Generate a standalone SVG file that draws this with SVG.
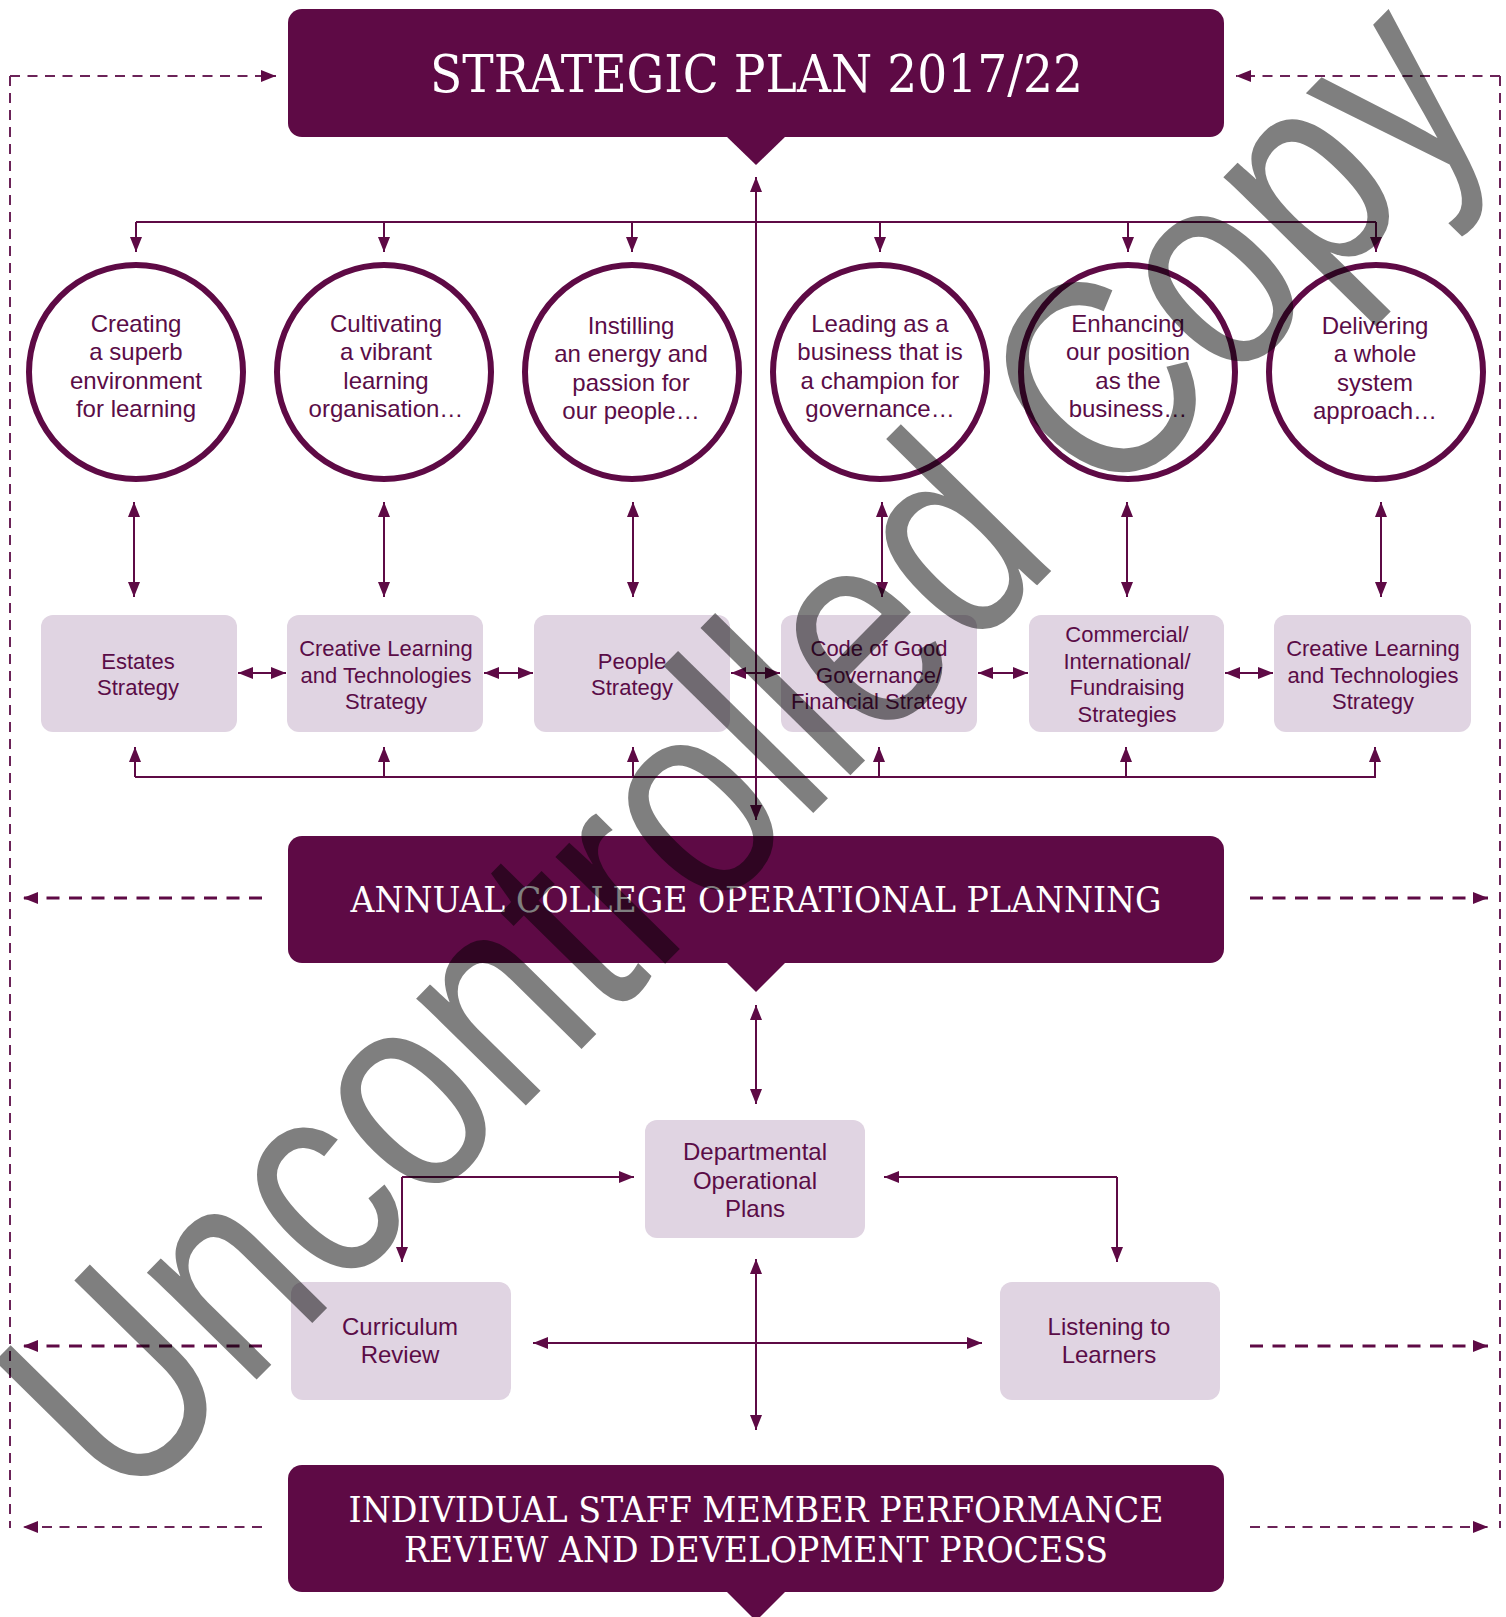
<svg xmlns="http://www.w3.org/2000/svg" width="1506" height="1617" viewBox="0 0 1506 1617">
<style>
.hd{fill:#5e0a45}
.ptr{fill:#5e0a45}
.ht{font-family:"DejaVu Serif","Liberation Serif",serif;fill:#fff;text-anchor:middle}
.circ{fill:#fff;stroke:#5e0a45;stroke-width:6}
.bx{fill:#e0d4e2}
.t24{font-family:"Liberation Sans",Arial,sans-serif;font-size:24px;fill:#5a0c47;text-anchor:middle}
.t22{font-family:"Liberation Sans",Arial,sans-serif;font-size:22px;fill:#5a0c47;text-anchor:middle}
.c{fill:none;stroke:#5e0a45;stroke-width:2}
.ca{fill:none;stroke:#5e0a45;stroke-width:2;marker-end:url(#ah)}
.cd{fill:none;stroke:#5e0a45;stroke-width:2;marker-start:url(#ah);marker-end:url(#ah)}
.dthin{fill:none;stroke:#6b2358;stroke-width:2;stroke-dasharray:10 7}
.dthinA{fill:none;stroke:#6b2358;stroke-width:2.2;stroke-dasharray:10 7.5;marker-end:url(#ah)}
.dthick{fill:none;stroke:#5e0a45;stroke-width:3;stroke-dasharray:13 9.5;marker-end:url(#ah)}
.wm{font-family:"Liberation Sans",Arial,sans-serif;fill:#000;fill-opacity:0.5}
</style>
<defs>
<marker id="ah" viewBox="0 0 15 12" refX="15" refY="6" markerWidth="15" markerHeight="12" markerUnits="userSpaceOnUse" orient="auto-start-reverse">
<path d="M0,0 L15,6 L0,12 z" fill="#5e0a45"/>
</marker>
</defs>
<rect width="1506" height="1617" fill="#fff"/>

<g id="connectors">
<path class="dthin" d="M10,76 V1528"/>
<path class="dthin" d="M1500,76 V1528"/>
<path class="dthinA" d="M10,76 H276"/>
<path class="dthinA" d="M1500,76 H1236"/>
<path class="dthick" d="M262,898 H23"/>
<path class="dthick" d="M1250,898 H1488"/>
<path class="dthick" d="M262,1346 H23"/>
<path class="dthick" d="M1250,1346 H1488"/>
<path class="dthinA" d="M262,1527 H23"/>
<path class="dthinA" d="M1250,1527 H1488"/>
<path class="c" d="M136,222 H1376"/>
<path class="ca" d="M136,222 V252"/>
<path class="ca" d="M384,222 V252"/>
<path class="ca" d="M632,222 V252"/>
<path class="ca" d="M880,222 V252"/>
<path class="ca" d="M1128,222 V252"/>
<path class="ca" d="M1376,222 V252"/>
<path class="cd" d="M756,177 V820"/>
<path class="cd" d="M134,502 V597"/>
<path class="cd" d="M384,502 V597"/>
<path class="cd" d="M633,502 V597"/>
<path class="cd" d="M882,502 V597"/>
<path class="cd" d="M1127,502 V597"/>
<path class="cd" d="M1381,502 V597"/>
<path class="cd" d="M238,673 H286"/>
<path class="cd" d="M484,673 H533"/>
<path class="cd" d="M731,673 H780"/>
<path class="cd" d="M978,673 H1028"/>
<path class="cd" d="M1225,673 H1273"/>
<path class="c" d="M135,777 H1376"/>
<path class="ca" d="M135,777 V747"/>
<path class="ca" d="M384,777 V747"/>
<path class="ca" d="M633,777 V747"/>
<path class="ca" d="M879,777 V747"/>
<path class="ca" d="M1126,777 V747"/>
<path class="ca" d="M1375,777 V747"/>
<path class="cd" d="M756,1005 V1104"/>
<path class="ca" d="M402,1177 H634"/>
<path class="ca" d="M402,1177 V1262"/>
<path class="ca" d="M1117,1177 H884"/>
<path class="ca" d="M1117,1177 V1262"/>
<path class="cd" d="M533,1343 H982"/>
<path class="cd" d="M756,1259 V1430"/>
</g>

<g id="strategic-plan">
<rect class="hd" x="288" y="9" width="936" height="128" rx="14"/>
<polygon class="ptr" points="726,136 786,136 756,165"/>
<text class="ht" x="756.5" y="92" font-size="52" textLength="653" lengthAdjust="spacingAndGlyphs">STRATEGIC PLAN 2017/22</text>
</g>

<g id="aim-1">
<circle class="circ" cx="136" cy="372" r="107"/>
<text class="t24" x="136" y="332">Creating</text>
<text class="t24" x="136" y="360">a superb</text>
<text class="t24" x="136" y="389">environment</text>
<text class="t24" x="136" y="417">for learning</text>
</g>
<g id="aim-2">
<circle class="circ" cx="384" cy="372" r="107"/>
<text class="t24" x="386" y="332">Cultivating</text>
<text class="t24" x="386" y="360">a vibrant</text>
<text class="t24" x="386" y="389">learning</text>
<text class="t24" x="386" y="417">organisation…</text>
</g>
<g id="aim-3">
<circle class="circ" cx="632" cy="372" r="107"/>
<text class="t24" x="631" y="334">Instilling</text>
<text class="t24" x="631" y="362">an energy and</text>
<text class="t24" x="631" y="391">passion for</text>
<text class="t24" x="631" y="419">our people…</text>
</g>
<g id="aim-4">
<circle class="circ" cx="880" cy="372" r="107"/>
<text class="t24" x="880" y="332">Leading as a</text>
<text class="t24" x="880" y="360">business that is</text>
<text class="t24" x="880" y="389">a champion for</text>
<text class="t24" x="880" y="417">governance…</text>
</g>
<g id="aim-5">
<circle class="circ" cx="1128" cy="372" r="107"/>
<text class="t24" x="1128" y="332">Enhancing</text>
<text class="t24" x="1128" y="360">our position</text>
<text class="t24" x="1128" y="389">as the</text>
<text class="t24" x="1128" y="417">business…</text>
</g>
<g id="aim-6">
<circle class="circ" cx="1376" cy="372" r="107"/>
<text class="t24" x="1375" y="334">Delivering</text>
<text class="t24" x="1375" y="362">a whole</text>
<text class="t24" x="1375" y="391">system</text>
<text class="t24" x="1375" y="419">approach…</text>
</g>

<g id="estates-strategy">
<rect class="bx" x="41" y="615" width="196" height="117" rx="12"/>
<text class="t22" x="138" y="669">Estates</text>
<text class="t22" x="138" y="695">Strategy</text>
</g>
<g id="clt-strategy-1">
<rect class="bx" x="287" y="615" width="196" height="117" rx="12"/>
<text class="t22" x="386" y="656">Creative Learning</text>
<text class="t22" x="386" y="683">and Technologies</text>
<text class="t22" x="386" y="709">Strategy</text>
</g>
<g id="people-strategy">
<rect class="bx" x="534" y="615" width="196" height="117" rx="12"/>
<text class="t22" x="632" y="669">People</text>
<text class="t22" x="632" y="695">Strategy</text>
</g>
<g id="governance-strategy">
<rect class="bx" x="781" y="615" width="196" height="117" rx="12"/>
<text class="t22" x="879" y="656">Code of Good</text>
<text class="t22" x="879" y="683">Governance/</text>
<text class="t22" x="879" y="709">Financial Strategy</text>
</g>
<g id="commercial-strategies">
<rect class="bx" x="1029" y="615" width="195" height="117" rx="12"/>
<text class="t22" x="1127" y="642">Commercial/</text>
<text class="t22" x="1127" y="669">International/</text>
<text class="t22" x="1127" y="695">Fundraising</text>
<text class="t22" x="1127" y="722">Strategies</text>
</g>
<g id="clt-strategy-2">
<rect class="bx" x="1274" y="615" width="197" height="117" rx="12"/>
<text class="t22" x="1373" y="656">Creative Learning</text>
<text class="t22" x="1373" y="683">and Technologies</text>
<text class="t22" x="1373" y="709">Strategy</text>
</g>

<g id="annual-planning">
<rect class="hd" x="288" y="836" width="936" height="127" rx="14"/>
<polygon class="ptr" points="726,962 786,962 756,992"/>
<text class="ht" x="756" y="912" font-size="36" textLength="811" lengthAdjust="spacingAndGlyphs">ANNUAL COLLEGE OPERATIONAL PLANNING</text>
</g>

<g id="departmental-plans">
<rect class="bx" x="645" y="1120" width="220" height="118" rx="12"/>
<text class="t24" x="755" y="1160">Departmental</text>
<text class="t24" x="755" y="1189">Operational</text>
<text class="t24" x="755" y="1217">Plans</text>
</g>
<g id="curriculum-review">
<rect class="bx" x="291" y="1282" width="220" height="118" rx="12"/>
<text class="t24" x="400" y="1335">Curriculum</text>
<text class="t24" x="400" y="1363">Review</text>
</g>
<g id="listening-to-learners">
<rect class="bx" x="1000" y="1282" width="220" height="118" rx="12"/>
<text class="t24" x="1109" y="1335">Listening to</text>
<text class="t24" x="1109" y="1363">Learners</text>
</g>

<g id="individual-review">
<rect class="hd" x="288" y="1465" width="936" height="127" rx="14"/>
<polygon class="ptr" points="726,1591 786,1591 756,1621"/>
<text class="ht" x="756" y="1522" font-size="36" textLength="815" lengthAdjust="spacingAndGlyphs">INDIVIDUAL STAFF MEMBER PERFORMANCE</text>
<text class="ht" x="756" y="1562" font-size="36" textLength="704" lengthAdjust="spacingAndGlyphs">REVIEW AND DEVELOPMENT PROCESS</text>
</g>

<g id="watermark">
<text class="wm" transform="translate(740,745) rotate(-45.5)" x="0" y="100" font-size="290" text-anchor="middle" textLength="1960" lengthAdjust="spacingAndGlyphs">Uncontrolled Copy</text>
</g>
</svg>
